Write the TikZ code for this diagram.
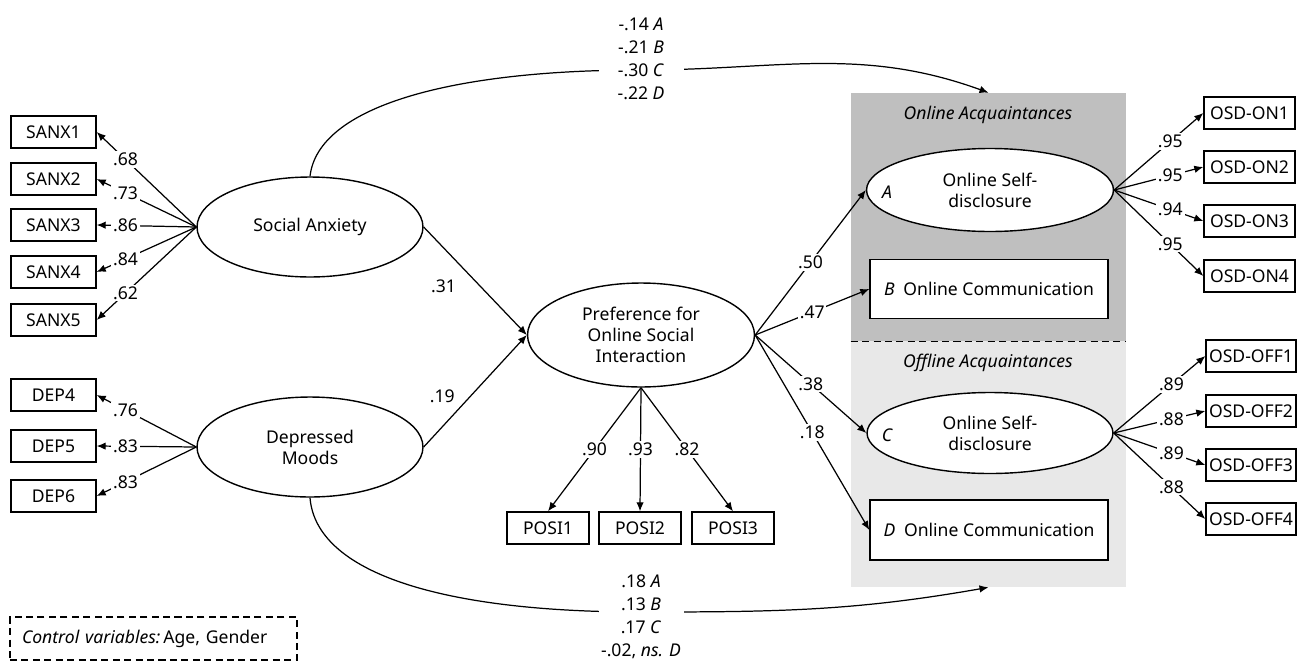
\documentclass[tikz,border=0pt]{standalone}
\usepackage{fontspec}
\setmainfont{Noto Sans}
\usepackage{tikz}
\usetikzlibrary{arrows.meta,shapes.geometric}

\definecolor{darkpanel}{gray}{0.75}
\definecolor{lightpanel}{gray}{0.91}

\begin{document}
\begin{tikzpicture}[
x=0.02cm, y=-0.02cm,
latent/.style={draw, ellipse, fill=white, inner sep=0pt, minimum width=4.52cm, minimum height=2cm, align=center, line width=0.8pt},
item/.style={draw, fill=white, minimum width=1.7cm, minimum height=0.64cm, inner sep=1pt, line width=0.8pt},
outbox/.style={draw, fill=white, minimum width=4.76cm, minimum height=1.18cm, line width=0.8pt},
panel/.style={minimum width=5.5cm, inner sep=0pt},
val/.style={fill=white, inner sep=1pt},
vals/.style={fill=white, inner sep=1pt, minimum width=1.7cm, align=center, font=\fontsize{10}{13}\selectfont},
arrow/.style={-{Latex[length=1.8mm,width=1.5mm]}, line width=0.7pt},
dashbox/.style={dashed, dash pattern=on 4pt off 2.5pt, line width=0.8pt}
]
\useasboundingbox (0,0) rectangle (1307,663);

% groups on the right
\node[panel, fill=darkpanel, minimum height=4.96cm] (onl) at (988.5,217) {};
\node[panel, fill=lightpanel, minimum height=4.92cm] (offl) at (988.5,464) {};
\draw[dashbox] (onl.south west) -- (onl.south east);
\node[font=\itshape] (onlt) at (988,115) {Online Acquaintances};
\node[font=\itshape] (offlt) at (988,363) {Offline Acquaintances};

% latent variables
\node[latent] (sa) at (310,227) {Social Anxiety};
\node[latent] (dm) at (310,447) {Depressed\\Moods};
\node[latent, minimum width=4.54cm, minimum height=2.08cm] (posi) at (641,335) {Preference for\\Online Social\\Interaction};
\node[latent, minimum width=4.94cm, minimum height=1.66cm] (osda) at (990,190) {Online Self-\\disclosure};
\node[latent, minimum width=4.92cm, minimum height=1.62cm] (osdc) at (990,433) {Online Self-\\disclosure};
\node[font=\itshape] (la) at (887,192) {A};
\node[font=\itshape] (lc) at (887,435) {C};
\node[outbox] (occb) at (989,289) {\textit{B}\enspace Online Communication};
\node[outbox, minimum height=1.2cm] (occd) at (989,530) {\textit{D}\enspace Online Communication};

% indicators
\foreach \i/\y/\v in {1/132/.68, 2/179/.73, 3/225/.86, 4/272/.84, 5/320/.62}{
  \node[item] (sanx\i) at (53.5,\y) {SANX\i};
  \draw[arrow] (sa.west) -- node[val, pos=0.71] {\v} (sanx\i.east);
}
\foreach \i/\y/\v in {4/395/.76, 5/446/.83, 6/496/.83}{
  \node[item] (dep\i) at (53.5,\y) {DEP\i};
  \draw[arrow] (dm.west) -- node[val, pos=0.71] {\v} (dep\i.east);
}
\foreach \i/\x/\v in {1/548/.90, 2/640/.93, 3/733/.82}{
  \node[item, minimum width=1.64cm] (posi\i) at (\x,528) {POSI\i};
  \draw[arrow] (posi.south) -- node[val, pos=0.5] {\v} (posi\i.north);
}
\foreach \i/\y/\v in {1/113/.95, 2/167/.95, 3/221/.94, 4/276/.95}{
  \node[item, minimum width=1.82cm] (on\i) at (1249.5,\y) {OSD-ON\i};
  \draw[arrow] (osda.east) -- node[val, pos=0.63] {\v} (on\i.west);
}
\foreach \i/\y/\v in {1/356/.89, 2/411/.88, 3/465/.89, 4/519/.88}{
  \node[item, minimum width=1.8cm] (off\i) at (1251,\y) {OSD-OFF\i};
  \draw[arrow] (osdc.east) -- node[val, pos=0.63] {\v} (off\i.west);
}

% structural paths
\draw[arrow] (sa.east) -- node[pos=0.55, left=0.36cm] {.31} (posi.west);
\draw[arrow] (dm.east) -- node[pos=0.45, left=0.18cm] {.19} (posi.west);
\draw[arrow] (posi.east) -- node[val, pos=0.5] {.50} (osda.west);
\draw[arrow] (posi.east) -- node[val, pos=0.5] {.47} (occb.west);
\draw[arrow] (posi.east) -- node[val, pos=0.5] {.38} (osdc.west);
\draw[arrow] (posi.east) -- node[val, pos=0.5] {.18} (occd.west);

% direct paths
\coordinate (ttop) at (641,70);
\coordinate (tbot) at (641,612);
\draw[arrow] (sa.north) .. controls +(8,-70) and +(-190,0) .. (ttop) to[out=0, in=160] (onl.north);
\draw[arrow] (dm.south) .. controls +(6,75) and +(-200,0) .. (tbot) to[out=0, in=190] (offl.south);
\node[vals] (topval) at (641,59) {-.14 \textit{A}\\-.21 \textit{B}\\-.30 \textit{C}\\-.22 \textit{D}};
\node[vals] (botval) at (641,616.5) {.18 \textit{A}\\.13 \textit{B}\\.17 \textit{C}\\-.02, \textit{ns.} \textit{D}};

\node[draw, dashbox, minimum width=5.74cm, minimum height=0.86cm, text width=5.26cm, align=left, inner xsep=0.24cm] (ctrl) at (153.5,638.5) {\textit{Control variables:}\,Age, Gender};
\end{tikzpicture}
\end{document}
